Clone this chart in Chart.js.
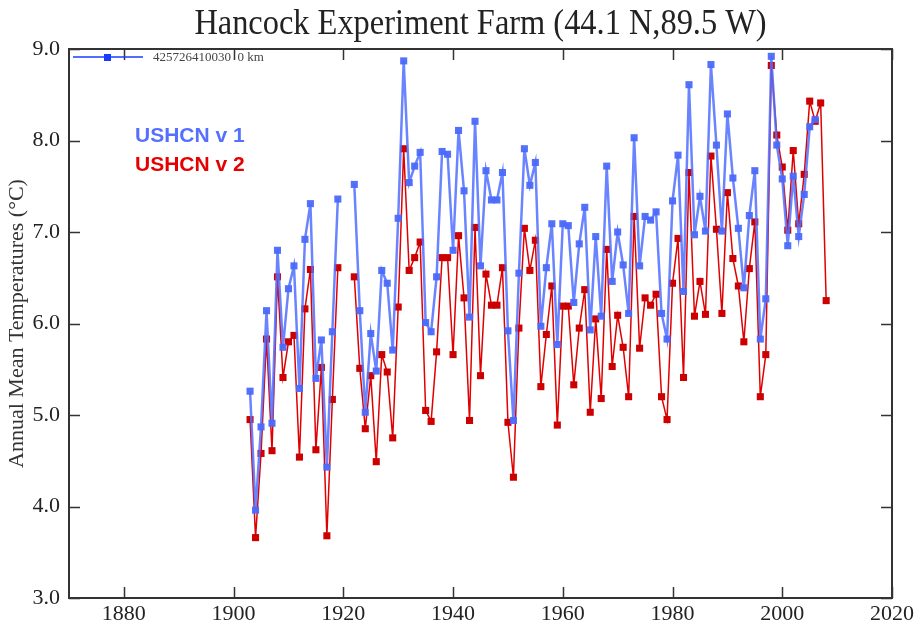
<!DOCTYPE html>
<html>
<head>
<meta charset="utf-8">
<title>Hancock Experiment Farm</title>
<script src="https://cdn.jsdelivr.net/npm/chart.js@4.4.1/dist/chart.umd.min.js"></script>
<style>
  html, body { margin: 0; padding: 0; background: #ffffff; }
  #wrap { width: 918px; height: 627px; position: relative; }
</style>
</head>
<body>
<div id="wrap"><canvas id="chart" width="918" height="627"></canvas></div>
<script>
// Data (annual mean temperature, deg C)
const years = [];
for (let y = 1903; y <= 2008; y++) years.push(y);

const ushcnV1 = [
  5.26, 3.96, 4.87, 6.14, 4.91, 6.80, 5.74, 6.38, 6.63, 5.29,   // 1903-1912
  6.92, 7.31, 5.40, 5.82, 4.43, 5.91, 7.36, null, null, 7.52,   // 1913-1922
  6.14, 5.03, 5.89, 5.48, 6.58, 6.44, 5.71, 7.15, 8.87, 7.54,   // 1923-1932
  7.72, 7.87, 6.01, 5.91, 6.51, 7.88, 7.85, 6.80, 8.11, 7.45,   // 1933-1942
  6.07, 8.21, 6.63, 7.67, 7.35, 7.35, 7.65, 5.92, 4.94, 6.55,   // 1943-1952
  7.91, 7.51, 7.76, 5.97, 6.61, 7.09, 5.77, 7.09, 7.07, 6.23,   // 1953-1962
  6.87, 7.27, 5.93, 6.95, 6.08, 7.72, 6.46, 7.00, 6.64, 6.11,   // 1963-1972
  8.03, 6.63, 7.17, 7.13, 7.22, 6.11, 5.83, 7.34, 7.84, 6.35,   // 1973-1982
  8.61, 6.97, 7.39, 7.01, 8.83, 7.95, 7.01, 8.29, 7.59, 7.04,   // 1983-1992
  6.39, 7.18, 7.67, 5.83, 6.27, 8.92, 7.95, 7.58, 6.85, 7.61,   // 1993-2002
  6.95, 7.41, 8.15, 8.23, null, null                            // 2003-2008
];

const ushcnV2 = [
  4.95, 3.66, 4.58, 5.83, 4.61, 6.51, 5.41, 5.80, 5.87, 4.54,   // 1903-1912
  6.16, 6.59, 4.62, 5.52, 3.68, 5.17, 6.61, null, null, 6.51,   // 1913-1922
  5.51, 4.85, 5.43, 4.49, 5.66, 5.47, 4.75, 6.18, 7.91, 6.58,   // 1923-1932
  6.72, 6.89, 5.05, 4.93, 5.69, 6.72, 6.72, 5.66, 6.96, 6.28,   // 1933-1942
  4.94, 7.05, 5.43, 6.54, 6.20, 6.20, 6.61, 4.92, 4.32, 5.95,   // 1943-1952
  7.04, 6.58, 6.91, 5.31, 5.88, 6.41, 4.89, 6.19, 6.19, 5.33,   // 1953-1962
  5.95, 6.37, 5.03, 6.05, 5.18, 6.81, 5.53, 6.09, 5.74, 5.20,   // 1963-1972
  7.17, 5.73, 6.28, 6.20, 6.32, 5.20, 4.95, 6.44, 6.93, 5.41,   // 1973-1982
  7.65, 6.08, 6.46, 6.10, 7.83, 7.03, 6.11, 7.43, 6.71, 6.41,   // 1983-1992
  5.80, 6.60, 7.11, 5.20, 5.66, 8.82, 8.06, 7.71, 7.02, 7.89,   // 1993-2002
  7.09, 7.63, 8.43, 8.21, 8.41, 6.25                            // 2003-2008
];

const xTicks = [1880, 1900, 1920, 1940, 1960, 1980, 2000, 2020];
const yTicks = [3, 4, 5, 6, 7, 8, 9];

const titleText = 'Hancock Experiment Farm (44.1 N,89.5 W)';
const stationLabel = '425726410030  0 km';
const seriesLabels = ['USHCN v 1', 'USHCN v 2'];

const SERIF = '"Liberation Serif", "DejaVu Serif", serif';
const SANS = '"Liberation Sans", Arial, sans-serif';

function toPoints(values) {
  return years.map((yr, i) => ({ x: yr, y: values[i] }));
}

// Frame, inward ticks, title and the in-plot labels
const decorations = {
  id: 'decorations',
  afterDraw(chart) {
    const { ctx, chartArea: a, scales } = chart;
    const tick = 11;
    ctx.save();

    ctx.strokeStyle = '#333333';
    ctx.lineWidth = 1.5;
    ctx.beginPath();
    xTicks.forEach(v => {
      const px = Math.round(scales.x.getPixelForValue(v)) + 0.5;
      ctx.moveTo(px, a.bottom); ctx.lineTo(px, a.bottom - tick);
      ctx.moveTo(px, a.top); ctx.lineTo(px, a.top + tick);
    });
    yTicks.forEach(v => {
      const py = Math.round(scales.y.getPixelForValue(v)) + 0.5;
      ctx.moveTo(a.left, py); ctx.lineTo(a.left + tick, py);
      ctx.moveTo(a.right, py); ctx.lineTo(a.right - tick, py);
    });
    ctx.stroke();

    ctx.lineWidth = 2;
    ctx.strokeRect(a.left, a.top, a.right - a.left, a.bottom - a.top);

    // title, slightly condensed like the original
    ctx.save();
    ctx.fillStyle = '#222222';
    ctx.font = '36px ' + SERIF;
    ctx.textAlign = 'center';
    ctx.textBaseline = 'middle';
    ctx.translate((a.left + a.right) / 2, 25);
    ctx.scale(0.9, 1);
    ctx.fillText(titleText, 0, 0);
    ctx.restore();

    // station legend
    const ly = a.top + 8;
    ctx.strokeStyle = '#1a3cff';
    ctx.lineWidth = 1.5;
    ctx.beginPath();
    ctx.moveTo(a.left + 4, ly); ctx.lineTo(a.left + 74, ly);
    ctx.stroke();
    ctx.fillStyle = '#1a3cff';
    ctx.fillRect(a.left + 35, ly - 3, 7, 7);
    ctx.fillStyle = '#444444';
    ctx.font = '13px ' + SERIF;
    ctx.textAlign = 'left';
    ctx.textBaseline = 'middle';
    ctx.fillText(stationLabel, a.left + 84, ly + 1);

    // version labels
    ctx.font = 'bold 21px ' + SANS;
    ctx.fillStyle = '#5570ff';
    ctx.fillText(seriesLabels[0], 135, 136);
    ctx.fillStyle = '#e60000';
    ctx.fillText(seriesLabels[1], 135, 165);

    ctx.restore();
  }
};

new Chart(document.getElementById('chart'), {
  type: 'line',
  data: {
    datasets: [
      {
        label: seriesLabels[1],
        data: toPoints(ushcnV2),
        borderColor: '#e00000',
        backgroundColor: '#cc0000',
        borderWidth: 1.5,
        pointStyle: 'rect',
        pointRadius: 5,
        pointBorderWidth: 0,
        spanGaps: false,
        tension: 0,
        order: 2
      },
      {
        label: seriesLabels[0],
        data: toPoints(ushcnV1),
        borderColor: 'rgba(80, 110, 255, 0.85)',
        backgroundColor: 'rgba(75, 105, 250, 0.95)',
        borderWidth: 2.5,
        pointStyle: 'rect',
        pointRadius: 5,
        pointBorderWidth: 0,
        spanGaps: false,
        tension: 0,
        order: 1
      }
    ]
  },
  options: {
    responsive: false,
    animation: false,
    layout: { padding: { top: 49, right: 26, left: 0, bottom: 0 } },
    plugins: {
      legend: { display: false },
      title: { display: false },
      tooltip: { enabled: false }
    },
    scales: {
      x: {
        type: 'linear',
        min: 1870,
        max: 2020,
        grid: { display: false, drawTicks: false },
        border: { display: false },
        afterBuildTicks: scale => { scale.ticks = xTicks.map(v => ({ value: v })); },
        afterFit: scale => { scale.height = 29; },
        ticks: {
          padding: 3,
          color: '#222222',
          font: { family: SERIF, size: 22 },
          maxRotation: 0,
          callback: v => String(v)
        }
      },
      y: {
        min: 3,
        max: 9,
        grid: { display: false, drawTicks: false },
        border: { display: false },
        afterBuildTicks: scale => { scale.ticks = yTicks.map(v => ({ value: v })); },
        afterFit: scale => { scale.width = 69; },
        ticks: {
          padding: 9,
          color: '#222222',
          font: { family: SERIF, size: 22 },
          callback: v => Number(v).toFixed(1)
        },
        title: {
          display: true,
          text: 'Annual Mean Temperatures (°C)',
          color: '#333333',
          font: { family: SERIF, size: 22 },
          padding: { top: 4, bottom: 0 }
        }
      }
    }
  },
  plugins: [decorations]
});
</script>
</body>
</html>
